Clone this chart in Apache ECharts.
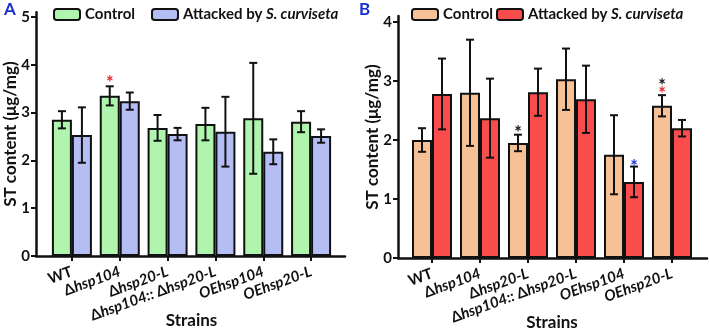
<!DOCTYPE html>
<html>
<head>
<meta charset="utf-8">
<script src="https://cdn.jsdelivr.net/npm/echarts@6/dist/echarts.min.js"></script>
<style>
html, body { margin: 0; padding: 0; background: #fff; }
#chart { width: 709px; height: 329px; }
</style>
</head>
<body>
<div id="chart"></div>
<script>
// strains on the x axis (same for both panels)
const strains = ['WT', 'Δhsp104', 'Δhsp20-L', 'Δhsp104:: Δhsp20-L', 'OEhsp104', 'OEhsp20-L'];

// panel A values (mean, error)
const aControl = [2.85, 3.35, 2.68, 2.76, 2.88, 2.81];
const aControlErr = [0.18, 0.2, 0.27, 0.34, 1.16, 0.22];
const aAttacked = [2.53, 3.24, 2.55, 2.6, 2.18, 2.51];
const aAttackedErr = [0.58, 0.18, 0.13, 0.73, 0.26, 0.14];

// panel B values (mean, error)
const bControl = [2.0, 2.8, 1.95, 3.03, 1.75, 2.58];
const bControlErr = [0.2, 0.9, 0.14, 0.52, 0.67, 0.18];
const bAttacked = [2.78, 2.37, 2.81, 2.69, 1.29, 2.2];
const bAttackedErr = [0.6, 0.67, 0.4, 0.57, 0.26, 0.14];

// significance stars: [strain index, bar (0 control / 1 attacked), y, colour]
const aStars = [[1, 0, 3.72, '#e8262a']];
const bStars = [
  [2, 0, 2.2, '#111'],
  [4, 1, 1.62, '#2233dd'],
  [5, 0, 3.0, '#111'],
  [5, 0, 2.86, '#e8262a']
];

const FONT = 'Lato';
const barW = 20;

function italicLabel(v) {
  if (v === 'WT') return '{n|WT}';
  return v.split(/(Δ|OE|:: )/).filter(s => s).map(s => {
    if (s === 'Δ') return '{n|Δ}';
    return '{i|' + s + '}';
  }).join('');
}

function errSeries(xi, yi, means, errs, side) {
  return {
    type: 'custom',
    xAxisIndex: xi, yAxisIndex: yi,
    z: 5,
    data: means.map((m, i) => [i, m, errs[i]]),
    renderItem: (params, api) => {
      const i = api.value(0), m = api.value(1), e = api.value(2);
      const top = api.coord([i, m + e]);
      const bot = api.coord([i, m - e]);
      const x = top[0] + side * barW / 2;
      const st = { stroke: '#111', lineWidth: 2 };
      return {
        type: 'group',
        children: [
          { type: 'line', shape: { x1: x, y1: top[1], x2: x, y2: bot[1] }, style: st },
          { type: 'line', shape: { x1: x - 4, y1: top[1], x2: x + 4, y2: top[1] }, style: st },
          { type: 'line', shape: { x1: x - 4, y1: bot[1], x2: x + 4, y2: bot[1] }, style: st }
        ]
      };
    }
  };
}

function starSeries(xi, yi, stars) {
  return {
    type: 'custom',
    xAxisIndex: xi, yAxisIndex: yi,
    z: 6,
    data: stars,
    renderItem: (params, api) => {
      const s = stars[params.dataIndex];
      const p = api.coord([s[0], s[2]]);
      const x = p[0] + (s[1] === 0 ? -1 : 1) * barW / 2;
      return {
        type: 'text',
        style: {
          x: x, y: p[1] + 5, text: '*', fill: s[3],
          font: 'bold 18px ' + FONT, align: 'center', verticalAlign: 'middle'
        }
      };
    }
  };
}

const axisTxt = { color: '#111', fontFamily: FONT, fontWeight: 'bold', fontSize: 15 };

function panel(frameIdx, dataIdx, max) {
  return {
    frameX: {
      type: 'value', gridIndex: frameIdx, min: 0, max: 1,
      axisLine: { lineStyle: { color: '#111', width: 2.5 } },
      axisTick: { show: false }, axisLabel: { show: false }, splitLine: { show: false }
    },
    frameY: {
      type: 'value', gridIndex: frameIdx, min: 0, max: max, interval: 1,
      name: 'ST content (μg/mg)', nameLocation: 'middle', nameGap: 17, nameMoveOverlap: false,
      nameTextStyle: { color: '#111', fontFamily: FONT, fontWeight: 'bold', fontSize: 17 },
      axisLine: { show: true, lineStyle: { color: '#111', width: 2.5 } },
      axisTick: { show: true, length: 5, lineStyle: { width: 2, color: '#111' } },
      axisLabel: Object.assign({ margin: 6 }, axisTxt),
      splitLine: { show: false }
    },
    dataX: {
      type: 'category', gridIndex: dataIdx, data: strains,
      name: 'Strains', nameLocation: 'middle', nameGap: 56, nameMoveOverlap: false,
      nameTextStyle: { color: '#111', fontFamily: FONT, fontWeight: 'bold', fontSize: 17 },
      axisLine: { show: false },
      axisTick: { show: true, alignWithLabel: true, length: 5, lineStyle: { width: 2, color: '#111' } },
      axisLabel: {
        interval: 0, rotate: 20, margin: 15,
        formatter: italicLabel,
        rich: {
          n: axisTxt,
          i: Object.assign({ fontStyle: 'italic' }, axisTxt)
        }
      }
    },
    dataY: {
      type: 'value', gridIndex: dataIdx, min: 0, max: max, show: false, splitLine: { show: false }
    }
  };
}

const pA = panel(0, 1, 5.1);
const pB = panel(2, 3, 4.1);

function bars(xi, yi, name, vals, color) {
  return {
    type: 'bar', name: name, xAxisIndex: xi, yAxisIndex: yi,
    data: vals, barWidth: barW, barGap: '0%',
    itemStyle: { color: color, borderColor: '#111', borderWidth: 2 }
  };
}

const legendText = {
  color: '#111', fontFamily: FONT, fontWeight: 'bold', fontSize: 15,
  rich: { i: { color: '#111', fontFamily: FONT, fontWeight: 'bold', fontStyle: 'italic', fontSize: 15 } }
};
const legendFmt = n => n.trim() === 'Control' ? 'Control' : 'Attacked by {i|S. curviseta}';

function legendAt(left, name) {
  return {
    left: left, top: 7, padding: 0, itemWidth: 26, itemHeight: 11, itemGap: 4,
    data: [name], formatter: legendFmt, textStyle: legendText,
    itemStyle: { borderColor: '#111', borderWidth: 2 }
  };
}

function gridBox(left, right, top, bottom) {
  return { left: left, right: right, top: top, bottom: bottom, outerBoundsMode: 'none', containLabel: false };
}

const chart = echarts.init(document.getElementById('chart'), null, { renderer: 'canvas' });
chart.setOption({
  animation: false,
  backgroundColor: '#fff',
  title: [
    { text: 'A', left: 4, top: 1, padding: 0, textStyle: { color: '#1a2fd0', fontFamily: FONT, fontWeight: 'bold', fontSize: 17 } },
    { text: 'B', left: 359, top: 1, padding: 0, textStyle: { color: '#1a2fd0', fontFamily: FONT, fontWeight: 'bold', fontSize: 17 } }
  ],
  legend: [
    legendAt(53, 'Control'),
    legendAt(151, 'Attacked by S. curviseta'),
    legendAt(411, 'Control '),
    legendAt(496, 'Attacked by S. curviseta ')
  ],
  grid: [
    gridBox(36, 364, 256 - 5.1 * 47.8, 73),
    gridBox(48, 374, 256 - 5.1 * 47.8, 73),
    gridBox(398, 2, 258 - 4.1 * 59, 71),
    gridBox(408, 13, 258 - 4.1 * 59, 71)
  ],
  xAxis: [pA.frameX, pA.dataX, pB.frameX, pB.dataX],
  yAxis: [pA.frameY, pA.dataY, pB.frameY, pB.dataY],
  series: [
    bars(1, 1, 'Control', aControl, '#b0f5ae'),
    bars(1, 1, 'Attacked by S. curviseta', aAttacked, '#b5bdf5'),
    errSeries(1, 1, aControl, aControlErr, -1),
    errSeries(1, 1, aAttacked, aAttackedErr, 1),
    starSeries(1, 1, aStars),
    bars(3, 3, 'Control ', bControl, '#f7c197'),
    bars(3, 3, 'Attacked by S. curviseta ', bAttacked, '#f94c4c'),
    errSeries(3, 3, bControl, bControlErr, -1),
    errSeries(3, 3, bAttacked, bAttackedErr, 1),
    starSeries(3, 3, bStars)
  ]
});
</script>
</body>
</html>
